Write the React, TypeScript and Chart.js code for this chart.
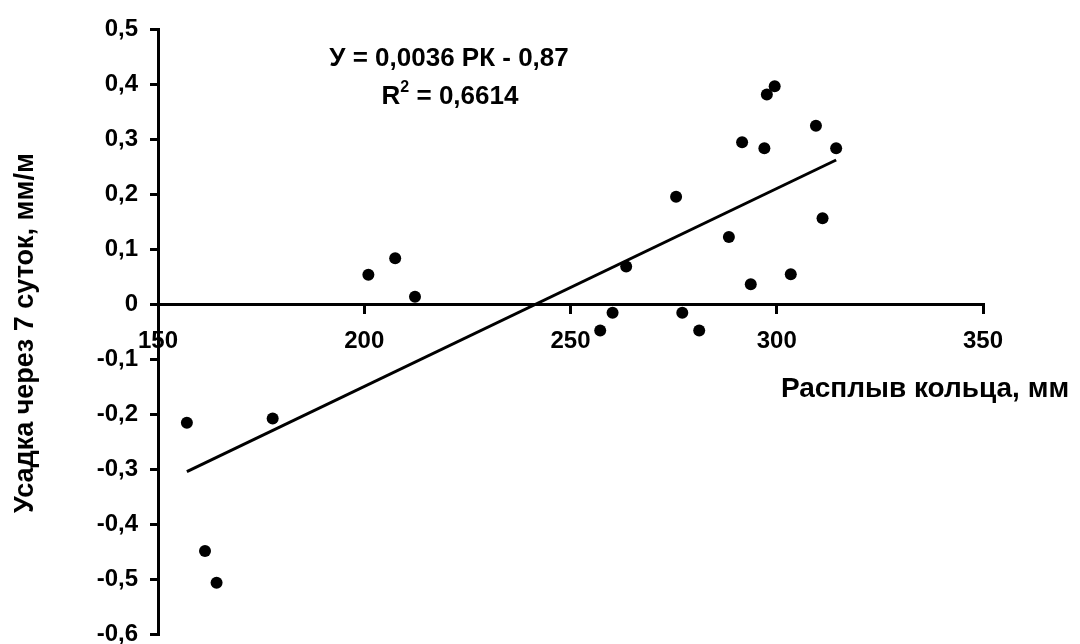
import React, { useEffect, useRef } from 'react';
import { Chart, registerables } from 'chart.js';

Chart.register(...registerables);

// Расплыв кольца, мм
const spreadValues = [157, 161.4, 164.2, 177.8, 201, 207.5, 212.3, 257.2, 260.2, 263.5, 275.6, 277.1, 281.2, 288.4, 291.6, 293.7, 297, 297.6, 299.5, 303.4, 309.5, 311.1, 314.4];
// Усадка через 7 суток, мм/м
const shrinkValues = [-0.216, -0.449, -0.507, -0.208, 0.053, 0.083, 0.013, -0.048, -0.016, 0.068, 0.195, -0.016, -0.048, 0.122, 0.294, 0.036, 0.283, 0.381, 0.396, 0.054, 0.324, 0.156, 0.283];

const trendSlope = 0.0036;
const trendIntercept = -0.87;
const equationText = 'У = 0,0036 РК - 0,87';
const r2Value = '0,6614';

const xTitle = 'Расплыв кольца, мм';
const yTitle = 'Усадка через 7 суток, мм/м';

const xMin = 150;
const xMax = 350;
const xStep = 50;
const yMin = -0.6;
const yMax = 0.5;
const yStep = 0.1;

const FONT = '"Liberation Sans", Arial, sans-serif';

function fmtY(v: number): string {
  const r = Math.round(v * 10) / 10;
  if (Math.abs(r) < 1e-9) return '0';
  return r.toFixed(1).replace('.', ',');
}

const textPlugin = {
  id: 'customText',
  afterDraw(chart: any) {
    const ctx = chart.ctx as CanvasRenderingContext2D;
    ctx.save();
    ctx.fillStyle = '#000';

    // X axis title
    ctx.font = `bold 28px ${FONT}`;
    ctx.textAlign = 'center';
    ctx.textBaseline = 'alphabetic';
    ctx.fillText(xTitle, 925, 397);

    // Y axis title
    ctx.font = `bold 27px ${FONT}`;
    ctx.save();
    ctx.translate(33, 333);
    ctx.rotate(-Math.PI / 2);
    ctx.textAlign = 'center';
    ctx.fillText(yTitle, 0, 0);
    ctx.restore();

    // Equation
    ctx.font = `bold 26px ${FONT}`;
    ctx.textAlign = 'center';
    ctx.fillText(equationText, 449, 66);

    // R^2 line
    const big = `bold 26px ${FONT}`;
    const small = `bold 16px ${FONT}`;
    const rest = ' = ' + r2Value;
    ctx.font = big;
    const wR = ctx.measureText('R').width;
    const wRest = ctx.measureText(rest).width;
    ctx.font = small;
    const w2 = ctx.measureText('2').width;
    const total = wR + w2 + wRest;
    const x0 = 450 - total / 2;
    ctx.textAlign = 'left';
    ctx.font = big;
    ctx.fillText('R', x0, 104);
    ctx.font = small;
    ctx.fillText('2', x0 + wR, 92);
    ctx.font = big;
    ctx.fillText(rest, x0 + wR + w2, 104);
    ctx.restore();
  },
};

export default function App() {
  const canvasRef = useRef<HTMLCanvasElement | null>(null);

  useEffect(() => {
    if (!canvasRef.current) return;
    const points = spreadValues.map((x, i) => ({ x, y: shrinkValues[i] }));
    const tx0 = Math.min(...spreadValues);
    const tx1 = Math.max(...spreadValues);
    const trend = [
      { x: tx0, y: trendSlope * tx0 + trendIntercept },
      { x: tx1, y: trendSlope * tx1 + trendIntercept },
    ];

    const chart = new Chart(canvasRef.current, {
      type: 'scatter',
      data: {
        datasets: [
          {
            data: trend,
            showLine: true,
            borderColor: '#000',
            borderWidth: 3,
            pointRadius: 0,
            pointHoverRadius: 0,
            fill: false,
            order: 2,
          },
          {
            data: points,
            backgroundColor: '#000',
            borderColor: '#000',
            borderWidth: 0,
            pointRadius: 6,
            order: 1,
          },
        ],
      },
      options: {
        animation: false,
        responsive: false,
        devicePixelRatio: 1,
        layout: { padding: { left: 0, top: 29, right: 97, bottom: 10 } },
        plugins: {
          legend: { display: false },
          tooltip: { enabled: false },
          title: { display: false },
        },
        scales: {
          x: {
            type: 'linear',
            min: xMin,
            max: xMax,
            position: { y: 0 } as any,
            afterFit: (s: any) => {
              s.height = 0;
              s.paddingLeft = 0;
              s.paddingRight = 0;
            },
            ticks: {
              stepSize: xStep,
              maxRotation: 0,
              autoSkip: false,
              color: '#000',
              padding: 15,
              font: { family: FONT, size: 24, weight: 'bold' },
            },
            grid: {
              drawOnChartArea: false,
              drawTicks: true,
              tickLength: 8,
              lineWidth: 3,
              color: '#000',
            },
            border: { display: true, width: 3, color: '#000' },
          },
          y: {
            type: 'linear',
            min: yMin,
            max: yMax,
            position: 'left',
            afterFit: (s: any) => {
              s.width = 158;
              s.paddingTop = 0;
              s.paddingBottom = 0;
            },
            ticks: {
              stepSize: yStep,
              autoSkip: false,
              color: '#000',
              padding: 12,
              font: { family: FONT, size: 24, weight: 'bold' },
              callback: (v: any) => fmtY(Number(v)),
            },
            grid: {
              drawOnChartArea: false,
              drawTicks: true,
              tickLength: 8,
              lineWidth: 3,
              color: '#000',
            },
            border: { display: true, width: 3, color: '#000' },
          },
        },
      },
      plugins: [textPlugin],
    });
    return () => chart.destroy();
  }, []);

  return (
    <div style={{ position: 'absolute', left: 0, top: 0, width: 1080, height: 644, background: '#fff' }}>
      <canvas ref={canvasRef} width={1080} height={644} style={{ display: 'block', width: 1080, height: 644 }} />
    </div>
  );
}
